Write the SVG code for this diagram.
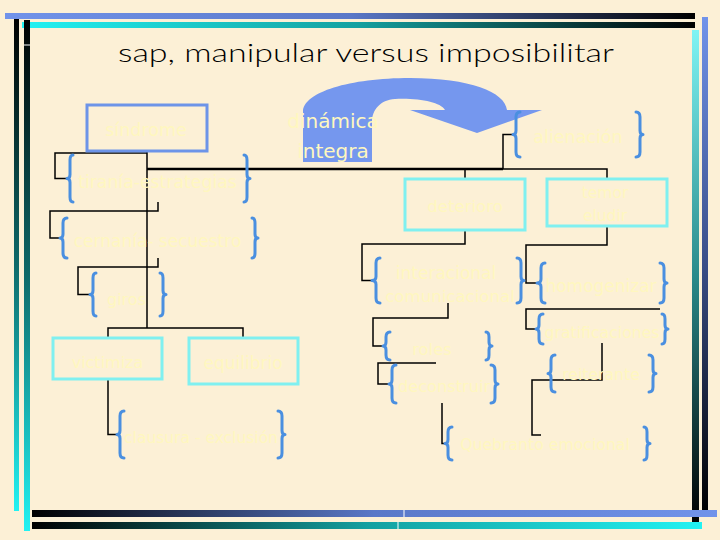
<svg xmlns="http://www.w3.org/2000/svg" width="720" height="540" viewBox="0 0 720 540">
<defs>
<linearGradient id="gTopBlue" x1="0" y1="0" x2="1" y2="0"><stop offset="0" stop-color="#7193ea"/><stop offset="0.5" stop-color="#5a78c8"/><stop offset="1" stop-color="#000000"/></linearGradient>
<linearGradient id="gTopCyan" x1="0" y1="0" x2="1" y2="0"><stop offset="0" stop-color="#22f2f2"/><stop offset="0.5" stop-color="#14a0a0"/><stop offset="1" stop-color="#000000"/></linearGradient>
<linearGradient id="gBotBlue" x1="0" y1="0" x2="1" y2="0"><stop offset="0" stop-color="#000000"/><stop offset="0.5" stop-color="#5a78c8"/><stop offset="1" stop-color="#7193ea"/></linearGradient>
<linearGradient id="gBotCyan" x1="0" y1="0" x2="1" y2="0"><stop offset="0" stop-color="#000000"/><stop offset="0.5" stop-color="#14a0a0"/><stop offset="1" stop-color="#22f2f2"/></linearGradient>
<linearGradient id="gLeft" x1="0" y1="0" x2="0" y2="1"><stop offset="0" stop-color="#000000"/><stop offset="0.5" stop-color="#0e6a6a"/><stop offset="1" stop-color="#22f2f2"/></linearGradient>
<linearGradient id="gRightCyan" x1="0" y1="0" x2="0" y2="1"><stop offset="0" stop-color="#7ff4f4"/><stop offset="0.5" stop-color="#2a8a8a"/><stop offset="1" stop-color="#000000"/></linearGradient>
<linearGradient id="gRightBlue" x1="0" y1="0" x2="0" y2="1"><stop offset="0" stop-color="#7193ea"/><stop offset="0.5" stop-color="#3a4e88"/><stop offset="1" stop-color="#000000"/></linearGradient>
</defs>
<style>
.ln{fill:none;stroke:#000;stroke-width:1.5}
.thick{fill:none;stroke:#000;stroke-width:2.6}
.br{fill:none;stroke:#4a8fe0;stroke-width:3;stroke-linecap:round;stroke-linejoin:round}
.bbox{fill:none;stroke:#6d94e8;stroke-width:3}
.cbox{fill:none;stroke:#80f0f0;stroke-width:3}
.lbl{font-family:"DejaVu Sans",Verdana,sans-serif;fill:#fff7bf;text-anchor:middle}
.title{font-family:Lato,"Open Sans",sans-serif;font-size:26px;font-weight:300;fill:#000;text-anchor:middle}
</style>
<rect x="0" y="0" width="720" height="540" fill="#fcf0d6"/>
<g id="frame">
<rect x="5" y="13" width="690" height="6" fill="url(#gTopBlue)"/>
<rect x="22" y="22" width="673" height="6" fill="url(#gTopCyan)"/>
<rect x="14" y="19" width="5" height="492" fill="url(#gLeft)"/>
<rect x="24" y="20" width="6" height="511" fill="url(#gLeft)"/>
<rect x="24" y="44.5" width="6" height="1" fill="#ffffff"/>
<rect x="692" y="30" width="7" height="494" fill="url(#gRightCyan)"/>
<rect x="702" y="17" width="6" height="493" fill="url(#gRightBlue)"/>
<rect x="32" y="510" width="685" height="7" fill="url(#gBotBlue)"/>
<rect x="32" y="522" width="670" height="7" fill="url(#gBotCyan)"/>
<rect x="403.5" y="510" width="1" height="7" fill="#ffffff"/>
<rect x="397.5" y="522" width="1" height="7" fill="#ffffff"/>
</g>
<text class="title" x="366" y="62" textLength="496" lengthAdjust="spacingAndGlyphs">sap, manipular versus  imposibilitar</text>
<g id="connectors">
<path id="arrow-dinamica" d="M303,162 L303,112 C303,92 350,78 410,78 C470,78 505,92 507,110 L542,110 L477,133 L410,110 L445,110 C440,102 420,98 395,99 C380,100 372,110 372,122 L372,162 Z" fill="#7597ee"/>
<path class="ln" d="M147,151 V328"/>
<path class="thick" d="M147,169 H503"/>
<path class="ln" d="M503,169 V134.5 H513"/>
<path class="ln" d="M465,179 V169 H607 V179"/>
<path class="ln" d="M147,153 H55 V178.5 H67"/>
<path class="ln" d="M158,202 V211 H50 V238 H60"/>
<path class="ln" d="M158,258 V267 H78 V294.5 H90"/>
<path class="ln" d="M108,338 V328 H243 V338"/>
<path class="ln" d="M108,379 V434.5 H117"/>
<path class="ln" d="M465,230 V244 H362 V280.5 H372"/>
<path class="ln" d="M607,226 V245 H526 V283 H537"/>
<path class="ln" d="M660,309 H526 V329 H536"/>
<path class="ln" d="M602,343 V380 H532 V435 H541"/>
<path class="ln" d="M448,303 V318 H373 V346 H383"/>
<path class="ln" d="M436,363 H378 V384 H389"/>
<path class="ln" d="M442,403 V443.5 H445"/>
</g>
<g id="dinamica">
<text class="lbl" x="333" y="128" font-size="20">dinámica</text>
<text class="lbl" x="333" y="158" font-size="20">integra</text>
</g>
<g id="sindrome">
<rect class="bbox" x="87" y="105" width="120" height="46"/>
<text class="lbl" x="146" y="136" font-size="17.5">síndrome</text>
</g>
<g id="tirania">
<path class="br" d="M73,155 Q70,155 70,160 V174.5 Q70,178.5 67,178.5 Q70,178.5 70,182.5 V197 Q70,202 73,202"/>
<path class="br" d="M244,155 Q247,155 247,160 V174.5 Q247,178.5 250,178.5 Q247,178.5 247,182.5 V197 Q247,202 244,202"/>
<text class="lbl" x="157.5" y="188" font-size="17.3">tiranía-estrategias</text>
</g>
<g id="cernania">
<path class="br" d="M67,218 Q63,218 63,223 V234 Q63,238 60,238 Q63,238 63,242 V253 Q63,258 67,258"/>
<path class="br" d="M252,218 Q255,218 255,223 V234 Q255,238 258,238 Q255,238 255,242 V253 Q255,258 252,258"/>
<text class="lbl" x="157.5" y="247" font-size="17">cernanía- secuestro</text>
</g>
<g id="giros">
<path class="br" d="M96,273 Q93,273 93,278 V290.5 Q93,294.5 90,294.5 Q93,294.5 93,298.5 V311 Q93,316 96,316"/>
<path class="br" d="M160,273 Q163,273 163,278 V290.5 Q163,294.5 166,294.5 Q163,294.5 163,298.5 V311 Q163,316 160,316"/>
<text class="lbl" x="126.5" y="305" font-size="16">giros</text>
</g>
<g id="victimiza">
<rect class="cbox" x="53" y="338" width="109" height="41"/>
<text class="lbl" x="107.5" y="368" font-size="16">victimiza</text>
</g>
<g id="equilibrio">
<rect class="cbox" x="189" y="338" width="109" height="46"/>
<text class="lbl" x="243" y="369" font-size="17">equilibrio</text>
</g>
<g id="clausura">
<path class="br" d="M124,411 Q120,411 120,416 V430.5 Q120,434.5 117,434.5 Q120,434.5 120,438.5 V453 Q120,458 124,458"/>
<path class="br" d="M278,411 Q282,411 282,416 V430.5 Q282,434.5 285,434.5 Q282,434.5 282,438.5 V453 Q282,458 278,458"/>
<text class="lbl" x="201" y="443" font-size="15.5">clausura - exclusión</text>
</g>
<g id="alienacion">
<path class="br" d="M520,112 Q516,112 516,117 V130.5 Q516,134.5 513,134.5 Q516,134.5 516,138.5 V152 Q516,157 520,157"/>
<path class="br" d="M636,112 Q640,112 640,117 V130.5 Q640,134.5 643,134.5 Q640,134.5 640,138.5 V152 Q640,157 636,157"/>
<text class="lbl" x="578" y="143" font-size="17.5">alienación</text>
</g>
<g id="deterioro">
<rect class="cbox" x="405" y="179" width="120" height="51"/>
<text class="lbl" x="465" y="212" font-size="16.6">deterioro</text>
</g>
<g id="temor">
<rect class="cbox" x="547" y="179" width="120" height="47"/>
<text class="lbl" x="605" y="198" font-size="15.5">temor</text>
<text class="lbl" x="605" y="221" font-size="15.5">eludir</text>
</g>
<g id="interacional">
<path class="br" d="M380,258 Q376,258 376,263 V276.5 Q376,280.5 372,280.5 Q376,280.5 376,284.5 V298 Q376,303 380,303"/>
<path class="br" d="M517,258 Q521,258 521,263 V276.5 Q521,280.5 524,280.5 Q521,280.5 521,284.5 V298 Q521,303 517,303"/>
<text class="lbl" x="446" y="279" font-size="17">interacional</text>
<text class="lbl" x="450" y="302" font-size="16.6">comunicacional</text>
</g>
<g id="homogenizar">
<path class="br" d="M545,263 Q541,263 541,268 V279 Q541,283 537,283 Q541,283 541,287 V298 Q541,303 545,303"/>
<path class="br" d="M660,263 Q664,263 664,268 V279 Q664,283 667,283 Q664,283 664,287 V298 Q664,303 660,303"/>
<text class="lbl" x="601" y="292" font-size="17">homogenizar</text>
</g>
<g id="gratificaciones">
<path class="br" d="M543,314 Q539,314 539,319 V325 Q539,329 536,329 Q539,329 539,333 V339 Q539,344 543,344"/>
<path class="br" d="M662,314 Q665,314 665,319 V325 Q665,329 668,329 Q665,329 665,333 V339 Q665,344 662,344"/>
<text class="lbl" x="602" y="338" font-size="15.7">gratificaciones</text>
</g>
<g id="reiterante">
<path class="br" d="M555,355 Q551,355 551,360 V369.5 Q551,373.5 548,373.5 Q551,373.5 551,377.5 V387 Q551,392 555,392"/>
<path class="br" d="M649,355 Q653,355 653,360 V369.5 Q653,373.5 656,373.5 Q653,373.5 653,377.5 V387 Q653,392 649,392"/>
<text class="lbl" x="601" y="380" font-size="15.7">reiterante</text>
</g>
<g id="roles">
<path class="br" d="M390,332 Q386,332 386,337 V342 Q386,346 383,346 Q386,346 386,350 V355 Q386,360 390,360"/>
<path class="br" d="M486,332 Q489,332 489,337 V342 Q489,346 492,346 Q489,346 489,350 V355 Q489,360 486,360"/>
<text class="lbl" x="432" y="355" font-size="16.4">roles</text>
</g>
<g id="deconstruir">
<path class="br" d="M396,365 Q392,365 392,370 V380 Q392,384 389,384 Q392,384 392,388 V398 Q392,403 396,403"/>
<path class="br" d="M491,365 Q495,365 495,370 V380 Q495,384 498,384 Q495,384 495,388 V398 Q495,403 491,403"/>
<text class="lbl" x="444" y="392" font-size="16.2">deconstruir</text>
</g>
<g id="quebranto">
<path class="br" d="M452,427 Q448,427 448,432 V439.5 Q448,443.5 445,443.5 Q448,443.5 448,447.5 V455 Q448,460 452,460"/>
<path class="br" d="M644,427 Q647,427 647,432 V439.5 Q647,443.5 650,443.5 Q647,443.5 647,447.5 V455 Q647,460 644,460"/>
<text class="lbl" x="545" y="450" font-size="15.7">Quebranto emocional</text>
</g>
</svg>
